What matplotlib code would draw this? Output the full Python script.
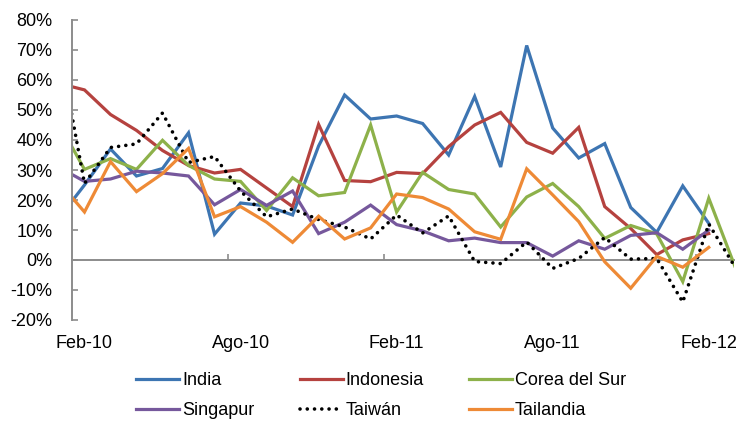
import numpy as np
import matplotlib
matplotlib.use("Agg")
import matplotlib.pyplot as plt

nan = np.nan

months = ["Ene-10", "Feb-10", "Mar-10", "Abr-10", "May-10", "Jun-10", "Jul-10",
          "Ago-10", "Sep-10", "Oct-10", "Nov-10", "Dic-10", "Ene-11", "Feb-11",
          "Mar-11", "Abr-11", "May-11", "Jun-11", "Jul-11", "Ago-11", "Sep-11",
          "Oct-11", "Nov-11", "Dic-11", "Ene-12", "Feb-12", "Mar-12"]

india = [13.8, 25, 37, 28, 30.5, 42.4, 8.6, 19, 18, 15, 38, 55, 47, 48, 45.5,
         35, 54.5, 31, 71.5, 44, 34, 38.8, 17.5, 9.2, 24.7, 12.2, nan]
indonesia = [58.9, 56.7, 48.5, 43.2, 36.5, 31.5, 29, 30.2, 24, 17.8, 45.2, 26.5,
             26.1, 29.2, 28.8, 37.8, 45, 49.2, 39.2, 35.6, 44.2, 17.8, 10.5, 1.8,
             6.7, 8.8, nan]
corea = [45.8, 30.2, 33.8, 30.2, 39.9, 31.5, 27, 26.2, 16.5, 27.4, 21.4, 22.5, 45,
         16, 29.2, 23.5, 22, 11, 21, 25.5, 17.8, 7.2, 11.5, 8.7, -7.2, 20.6, -2]
singapur = [31, 26.2, 27, 29.6, 29, 28, 18.4, 23.5, 18.2, 23, 8.8, 12.6, 18.3,
            11.8, 9.7, 6.4, 7.3, 5.8, 5.8, 1.3, 6.4, 3.6, 8.2, 9.1, 3.6, 10, nan]
taiwan = [72.5, 25.5, 37.5, 38.7, 49, 32.5, 34.5, 23, 14.4, 17, 13.5, 11, 7, 15,
          9, 14.7, -0.5, -1.2, 6, -2.8, 0.5, 7.5, 0.3, 0.5, -14, 12, -2.2]
tailandia = [26.1, 16, 32.8, 22.8, 28.8, 37.2, 14.4, 17.8, 12.6, 5.9, 14.6, 7,
             10.7, 22, 20.8, 17, 9.4, 6.9, 30.4, 21.7, 12.8, -0.6, -9.4, 1.2,
             -2.4, 4.2, nan]

series_names = ["India", "Indonesia", "Corea del Sur", "Singapur", "Taiwán", "Tailandia"]
series_vals = [india, indonesia, corea, singapur, taiwan, tailandia]
colors = ["#3D75B2", "#B5423F", "#8DB14A", "#76589C", "#000000", "#EE8A36"]

tick_labels = ["Feb-10", "Ago-10", "Feb-11", "Ago-11", "Feb-12"]
y_ticks = [-20, -10, 0, 10, 20, 30, 40, 50, 60, 70, 80]

plt.rcParams["font.family"] = ["Liberation Sans", "DejaVu Sans"]

fig = plt.figure(figsize=(7.4, 4.24), dpi=100)
ax = fig.add_axes([72 / 740, 1 - 320 / 424, (734 - 72) / 740, 300 / 424])

x = np.arange(len(months))
handles = []
for name, vals, c in zip(series_names, series_vals, colors):
    if name == "Taiwán":
        h, = ax.plot(x, vals, color=c, lw=2.6, linestyle=(0, (0.01, 2.0)),
                     dash_capstyle="round", label=name)
    else:
        h, = ax.plot(x, vals, color=c, lw=2.3, solid_joinstyle="miter", label=name)
    handles.append(h)

ax.set_xlim(0.52, 25.97)
ax.set_ylim(-20, 80)

gray = "#8C8C8C"
for s in ["top", "right", "bottom"]:
    ax.spines[s].set_visible(False)
ax.spines["left"].set_color(gray)
ax.spines["left"].set_linewidth(1.4)

ax.set_yticks(y_ticks)
ax.set_yticklabels([f"{v}%" for v in y_ticks])
ax.tick_params(axis="y", direction="in", length=4, width=1.2, color=gray,
               labelsize=13, pad=14)

ax.set_xticks([months.index(l) for l in tick_labels])
ax.set_xticklabels(tick_labels)
ax.tick_params(axis="x", length=0, labelsize=13, pad=11)

sec = ax.secondary_xaxis(0.2)
sec.set_xticks([months.index(l) - 0.5 for l in ["Ago-10", "Feb-11", "Ago-11", "Feb-12"]])
sec.tick_params(direction="in", length=4, width=1.2, color=gray, labelbottom=False)
sec.spines["bottom"].set_color(gray)
sec.spines["bottom"].set_linewidth(1.4)
for s in ["top", "left", "right"]:
    sec.spines[s].set_visible(False)

# legend filled row by row (3 columns, 2 rows)
order = [0, 3, 1, 4, 2, 5]
leg = fig.legend([handles[i] for i in order], [series_names[i] for i in order],
                 loc="center", bbox_to_anchor=(0.515, 0.067), ncol=3,
                 frameon=False, fontsize=13, handlelength=2.4,
                 handletextpad=0.15, columnspacing=2.5, labelspacing=0.7)

fig.savefig("out.png", dpi=100)
